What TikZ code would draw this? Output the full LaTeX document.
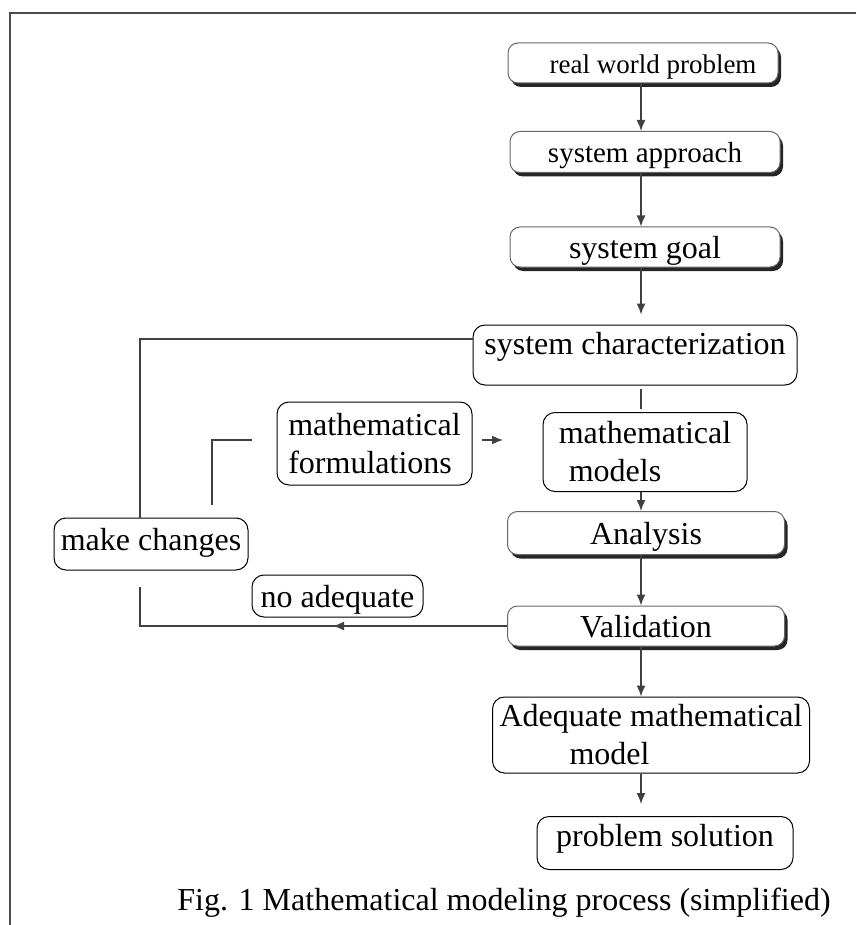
\documentclass[tikz,border=0pt]{standalone}
\usepackage{fontspec}
\setmainfont{Liberation Serif}
\usetikzlibrary{arrows.meta,shadows}
\begin{document}
\begin{tikzpicture}[x=1pt,y=-1pt,
  base/.style={draw=black, line width=1pt, fill=white, rounded corners=12pt, inner xsep=2pt, inner ysep=2pt, font=\fontsize{32}{38}\selectfont},
  one/.style={base, text height=26pt, text depth=4pt},
  shad/.style={one, draw=black!60, rounded corners=10pt, drop shadow={shadow xshift=3pt, shadow yshift=-4pt, fill=black!85, opacity=1}},
  two/.style={base, align=left},
  conn/.style={draw=black!75, line width=1.5pt},
  arr/.style={conn, -{Latex[length=11pt,width=9pt]}},
  frame/.style={draw=black!70, line width=2pt}]
\useasboundingbox (0,0) rectangle (856,925);
\draw[frame] (856,13) -- (10,13) -- (10,925);

\node[shad, minimum width=270pt, minimum height=40pt, font=\fontsize{27}{32}\selectfont] (rwp) at (643,63) {\hspace*{20pt}real world problem};
\node[shad, minimum width=270pt, minimum height=41pt, font=\fontsize{29}{34}\selectfont] (sa) at (645,152) {system approach};
\node[shad, minimum width=270pt, minimum height=40pt] (sg) at (645,247) {system goal};
\node[one, minimum width=324pt, minimum height=60pt, text depth=28pt] (sc) at (635,355) {system characterization};
\node[two, minimum width=204pt, minimum height=79pt] (mm) at (645,452) {mathematical\\\hspace*{10pt}models};
\node[two, minimum width=195pt, minimum height=83pt] (mf) at (374.5,443.5) {mathematical\\formulations};
\node[shad, minimum width=277pt, minimum height=43pt] (an) at (646,533) {Analysis};
\node[shad, minimum width=277pt, minimum height=40pt] (va) at (646,626) {Validation};
\node[two, minimum width=317pt, minimum height=76pt] (amm) at (651,735) {Adequate mathematical\\\hspace*{70pt}model};
\node[one, minimum width=256pt, minimum height=53pt, text depth=20pt] (ps) at (665,843) {problem solution};
\node[one, minimum width=194pt, minimum height=52pt, text depth=14pt] (mc) at (151,544) {make changes};
\node[one, minimum width=171pt, minimum height=42pt] (na) at (337.5,596) {no adequate};
\node[font=\fontsize{32}{38}\selectfont, inner sep=0pt] (cap) at (504,903) {Fig. 1 Mathematical modeling process (simplified)};

\coordinate (spine) at (641,0);
\coordinate (ltop) at (140,339);
\coordinate (lbot) at (140,587);
\coordinate (amid) at (333,626);
\coordinate (fa) at (212,505);
\coordinate (fb) at (252,440);
\coordinate (fs) at (482,440);
\coordinate (fe) at (503,440);

\draw[arr] (rwp.south -| spine) -- (sa.north -| spine);
\draw[arr] (sa.south -| spine) -- (sg.north -| spine);
\draw[arr, shorten >=10pt] (sg.south -| spine) -- (sc.north -| spine);
\draw[conn, shorten <=3pt, shorten >=3pt] (sc.south -| spine) -- (mm.north -| spine);
\draw[arr] (mm.south -| spine) -- (an.north -| spine);
\draw[arr] (an.south -| spine) -- (va.north -| spine);
\draw[arr] (va.south -| spine) -- (amm.north -| spine);
\draw[arr, shorten >=12pt] (amm.south -| spine) -- (ps.north -| spine);

\draw[conn] (mc.north -| ltop) |- (sc.west |- ltop);
\draw[conn] (fa) |- (fb);
\draw[arr] (fs) -- (fe);
\draw[conn] (va.west) -| (lbot);
\draw[arr] (va.west) -- (amid);
\end{tikzpicture}
\end{document}
